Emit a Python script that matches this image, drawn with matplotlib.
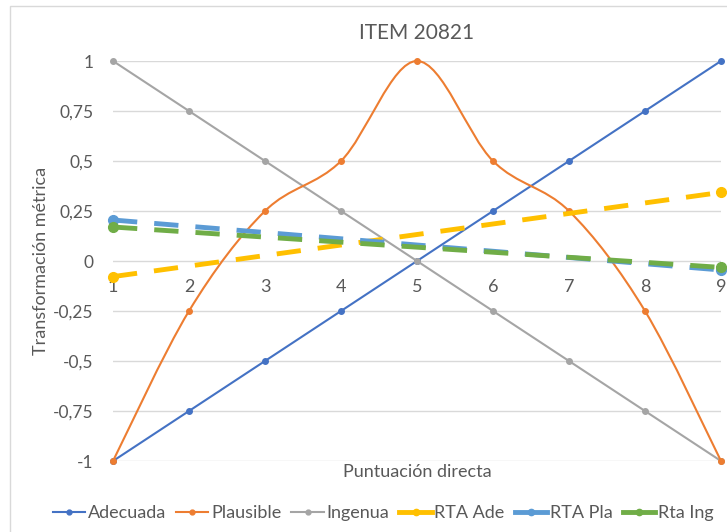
import matplotlib as mpl
from matplotlib import pyplot as plt
from matplotlib.path import Path
from matplotlib.patches import PathPatch, Rectangle
from matplotlib.lines import Line2D
import numpy as np

mpl.rc('font', family=['Lato', 'DejaVu Sans'], size=12)

x = [1, 2, 3, 4, 5, 6, 7, 8, 9]
adecuada = [-1, -0.75, -0.5, -0.25, 0, 0.25, 0.5, 0.75, 1]
plausible = [-1, -0.25, 0.25, 0.5, 1, 0.5, 0.25, -0.25, -1]
ingenua = [1, 0.75, 0.5, 0.25, 0, -0.25, -0.5, -0.75, -1]

# trend series only have end points
x_ends = [1, 9]
rta_ade = [-0.078, 0.343]
rta_pla = [0.205, -0.045]
rta_ing = [0.17, -0.032]

yticks = [1, 0.75, 0.5, 0.25, 0, -0.25, -0.5, -0.75, -1]
ylabels = ["1", "0,75", "0,5", "0,25", "0", "-0,25", "-0,5", "-0,75", "-1"]

c_ade = '#4472C4'
c_pla = '#ED7D31'
c_ing = '#A5A5A5'
c_rade = '#FFC000'
c_rpla = '#5B9BD5'
c_ring = '#70AD47'
txt = '#595959'

fig = plt.figure(figsize=(7.27, 5.32), dpi=100)
fig.patches.append(Rectangle((10/727, -0.1), 1.2, 1 - 6/532 + 0.1, transform=fig.transFigure,
                             fill=False, edgecolor='#d9d9d9', linewidth=1))
ax = fig.add_axes([113/727, 71/532, 608/727, 400/532])
ax.set_xlim(1, 9)
ax.set_ylim(-1, 1)

for s in ax.spines.values():
    s.set_visible(False)
ax.set_yticks(yticks)
ax.set_yticklabels(ylabels)
ax.yaxis.grid(True, color='#d9d9d9', linewidth=1)
ax.set_axisbelow(True)
ax.tick_params(axis='y', length=0, pad=14, colors=txt, labelsize=12.5)

ax.spines['bottom'].set_position(('data', 0))
ax.set_xticks(x)
ax.tick_params(axis='x', length=0, pad=13, colors=txt, labelsize=13)

ax.plot(x, adecuada, color=c_ade, lw=1.5, marker='o', ms=4, zorder=3, clip_on=False)
ax.plot(x, ingenua, color=c_ing, lw=1.5, marker='o', ms=4, zorder=3, clip_on=False)

# smoothed line like Excel (Catmull-Rom as cubic bezier)
pts = np.column_stack([x, plausible]).astype(float)
ext = np.vstack([pts[0], pts, pts[-1]])
verts = [tuple(pts[0])]
codes = [Path.MOVETO]
for i in range(len(pts) - 1):
    p0, p1, p2, p3 = ext[i], ext[i + 1], ext[i + 2], ext[i + 3]
    verts += [tuple(p1 + (p2 - p0) / 6), tuple(p2 - (p3 - p1) / 6), tuple(p2)]
    codes += [Path.CURVE4] * 3
ax.add_patch(PathPatch(Path(verts, codes), facecolor='none', edgecolor=c_pla, lw=1.5, zorder=3,
                       clip_on=False))
ax.plot(x, plausible, ls='none', color=c_pla, marker='o', ms=4, zorder=3, clip_on=False)

dash = (0, (5, 3.5))
ax.plot(x_ends, rta_ade, color=c_rade, lw=3.5, ls=dash, marker='o', ms=7, zorder=4, clip_on=False)
ax.plot(x_ends, rta_pla, color=c_rpla, lw=3.5, ls=dash, marker='o', ms=7, zorder=4, clip_on=False)
ax.plot(x_ends, rta_ing, color=c_ring, lw=3.5, ls=dash, marker='o', ms=7, zorder=4, clip_on=False)

ax.set_title("ITEM 20821", color=txt, fontsize=15, pad=16)
ax.set_ylabel("Transformación métrica", color=txt, fontsize=13, labelpad=3)
fig.text((113 + 721) / 2 / 727, 1 - 472 / 532, "Puntuación directa", color=txt,
         fontsize=13, ha='center', va='center')

handles = [
    Line2D([], [], color=c_ade, lw=1.5, marker='o', ms=3.5),
    Line2D([], [], color=c_pla, lw=1.5, marker='o', ms=3.5),
    Line2D([], [], color=c_ing, lw=1.5, marker='o', ms=3.5),
    Line2D([], [], color=c_rade, lw=3.5, marker='o', ms=4.5),
    Line2D([], [], color=c_rpla, lw=3.5, marker='o', ms=4.5),
    Line2D([], [], color=c_ring, lw=3.5, marker='o', ms=4.5),
]
names = ["Adecuada", "Plausible", "Ingenua", "RTA Ade", "RTA Pla", "Rta Ing"]
fig.legend(handles, names, loc='center', bbox_to_anchor=(383 / 727, 1 - 513 / 532), ncol=6,
           frameon=False, fontsize=13, labelcolor=txt, handlelength=1.8, handletextpad=0.15,
           columnspacing=0.55, borderpad=0, borderaxespad=0)

fig.savefig('out.png', dpi=100)
